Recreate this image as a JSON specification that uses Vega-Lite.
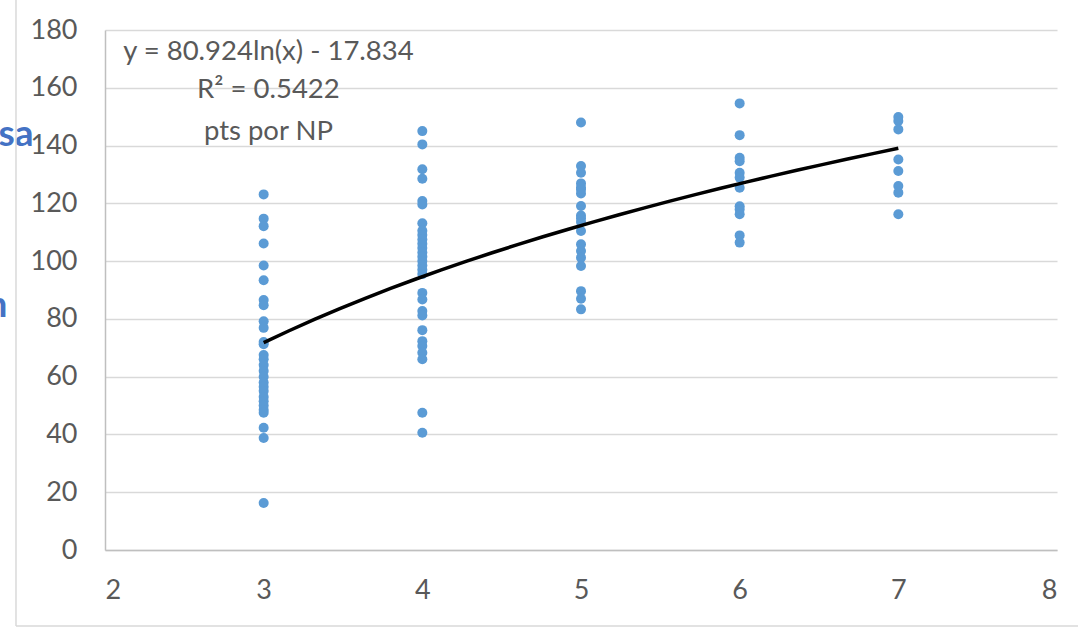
{
  "$schema": "https://vega.github.io/schema/vega-lite/v6.json",
  "autosize": "none",
  "width": 952,
  "height": 520,
  "padding": {"left": 105, "top": 30, "right": 21, "bottom": 80},
  "background": "white",
  "config": {
    "view": {"stroke": null},
    "font": "Lato",
    "axis": {"labelFont": "Lato", "labelFontSize": 27, "labelColor": "#595959", "ticks": false, "title": null}
  },
  "datasets": {
    "pts": [
      {"np": 3, "pts": 123.1}, {"np": 3, "pts": 114.7}, {"np": 3, "pts": 112.1}, {"np": 3, "pts": 106.1},
      {"np": 3, "pts": 98.5}, {"np": 3, "pts": 93.4}, {"np": 3, "pts": 86.5}, {"np": 3, "pts": 84.7},
      {"np": 3, "pts": 79.2}, {"np": 3, "pts": 76.9}, {"np": 3, "pts": 72}, {"np": 3, "pts": 71.2},
      {"np": 3, "pts": 67.5}, {"np": 3, "pts": 66}, {"np": 3, "pts": 64}, {"np": 3, "pts": 62},
      {"np": 3, "pts": 60}, {"np": 3, "pts": 58}, {"np": 3, "pts": 56.5}, {"np": 3, "pts": 55},
      {"np": 3, "pts": 53}, {"np": 3, "pts": 51.5}, {"np": 3, "pts": 50}, {"np": 3, "pts": 48.5},
      {"np": 3, "pts": 47.5}, {"np": 3, "pts": 42.3}, {"np": 3, "pts": 38.8}, {"np": 3, "pts": 16.3},
      {"np": 4, "pts": 145}, {"np": 4, "pts": 140.4}, {"np": 4, "pts": 131.8}, {"np": 4, "pts": 128.5},
      {"np": 4, "pts": 120.8}, {"np": 4, "pts": 119.6}, {"np": 4, "pts": 113.1}, {"np": 4, "pts": 110.5},
      {"np": 4, "pts": 109}, {"np": 4, "pts": 107.5}, {"np": 4, "pts": 106}, {"np": 4, "pts": 104.5},
      {"np": 4, "pts": 103}, {"np": 4, "pts": 101.5}, {"np": 4, "pts": 100}, {"np": 4, "pts": 98.5},
      {"np": 4, "pts": 97}, {"np": 4, "pts": 95.5}, {"np": 4, "pts": 89}, {"np": 4, "pts": 86.7},
      {"np": 4, "pts": 82.7}, {"np": 4, "pts": 81.2}, {"np": 4, "pts": 76.1}, {"np": 4, "pts": 72.3},
      {"np": 4, "pts": 70.6}, {"np": 4, "pts": 68.3}, {"np": 4, "pts": 66}, {"np": 4, "pts": 47.5},
      {"np": 4, "pts": 40.6},
      {"np": 5, "pts": 148}, {"np": 5, "pts": 132.9}, {"np": 5, "pts": 130.6}, {"np": 5, "pts": 126.9},
      {"np": 5, "pts": 125.5}, {"np": 5, "pts": 124.8}, {"np": 5, "pts": 123.4}, {"np": 5, "pts": 119.1},
      {"np": 5, "pts": 115.8}, {"np": 5, "pts": 114.8}, {"np": 5, "pts": 113.5}, {"np": 5, "pts": 110.4},
      {"np": 5, "pts": 105.8}, {"np": 5, "pts": 103.5}, {"np": 5, "pts": 101.2}, {"np": 5, "pts": 98.3},
      {"np": 5, "pts": 89.6}, {"np": 5, "pts": 87}, {"np": 5, "pts": 83.3},
      {"np": 6, "pts": 154.6}, {"np": 6, "pts": 143.6}, {"np": 6, "pts": 135.8}, {"np": 6, "pts": 134.6},
      {"np": 6, "pts": 130.6}, {"np": 6, "pts": 128.9}, {"np": 6, "pts": 125.4}, {"np": 6, "pts": 119},
      {"np": 6, "pts": 117.9}, {"np": 6, "pts": 116.2}, {"np": 6, "pts": 108.9}, {"np": 6, "pts": 106.4},
      {"np": 7, "pts": 149.9}, {"np": 7, "pts": 148.5}, {"np": 7, "pts": 145.6}, {"np": 7, "pts": 135.2},
      {"np": 7, "pts": 131.2}, {"np": 7, "pts": 126}, {"np": 7, "pts": 123.7}, {"np": 7, "pts": 116.2}
    ],
    "one": [{"k": 1}]
  },
  "layer": [
    {
      "data": {"name": "pts"},
      "mark": {"type": "point", "filled": true, "opacity": 1, "size": 100, "color": "#5b9bd5"},
      "encoding": {
        "x": {
          "field": "np", "type": "quantitative",
          "scale": {"domain": [2, 8], "nice": false, "zero": false},
          "axis": {"values": [2, 3, 4, 5, 6, 7, 8], "format": "d", "grid": false, "domainColor": "#bfbfbf", "domainWidth": 1.5, "labelPadding": 27}
        },
        "y": {
          "field": "pts", "type": "quantitative",
          "scale": {"domain": [0, 180], "nice": false},
          "axis": {"values": [0, 20, 40, 60, 80, 100, 120, 140, 160, 180], "format": "d", "grid": true, "gridColor": "#d9d9d9", "gridWidth": 1.5, "domainColor": "#bfbfbf", "domainWidth": 1.5, "labelPadding": 28}
        }
      }
    },
    {
      "data": {"name": "pts"},
      "transform": [{"regression": "pts", "on": "np", "method": "log", "extent": [3, 7]}],
      "mark": {"type": "line", "color": "#000000", "strokeWidth": 3.5},
      "encoding": {
        "x": {"field": "np", "type": "quantitative"},
        "y": {"field": "pts", "type": "quantitative"}
      }
    },
    {
      "data": {"name": "one"},
      "mark": {"type": "text", "font": "Lato", "fontSize": 27.5, "color": "#595959", "align": "center", "baseline": "middle"},
      "encoding": {
        "x": {"datum": 3.03, "type": "quantitative"},
        "y": {"datum": 172.4, "type": "quantitative"},
        "text": {"value": "y = 80.924ln(x) - 17.834"}
      }
    },
    {
      "data": {"name": "one"},
      "mark": {"type": "text", "font": "Lato", "fontSize": 27.5, "color": "#595959", "align": "center", "baseline": "middle"},
      "encoding": {
        "x": {"datum": 3.03, "type": "quantitative"},
        "y": {"datum": 159.2, "type": "quantitative"},
        "text": {"value": "R² = 0.5422"}
      }
    },
    {
      "data": {"name": "one"},
      "mark": {"type": "text", "font": "Lato", "fontSize": 27.5, "color": "#595959", "align": "center", "baseline": "middle"},
      "encoding": {
        "x": {"datum": 3.03, "type": "quantitative"},
        "y": {"datum": 144.7, "type": "quantitative"},
        "text": {"value": "pts por NP"}
      }
    },
    {
      "data": {"name": "one"},
      "mark": {"type": "text", "font": "Lato", "fontWeight": "bold", "fontSize": 37, "color": "#4472c4", "align": "right", "baseline": "middle"},
      "encoding": {
        "x": {"datum": 1.55, "type": "quantitative"},
        "y": {"datum": 143.5, "type": "quantitative"},
        "text": {"value": "sa"}
      }
    },
    {
      "data": {"name": "one"},
      "mark": {"type": "text", "font": "Lato", "fontWeight": "bold", "fontSize": 37, "color": "#4472c4", "align": "right", "baseline": "middle"},
      "encoding": {
        "x": {"datum": 1.385, "type": "quantitative"},
        "y": {"datum": 84.5, "type": "quantitative"},
        "text": {"value": "n"}
      }
    },
    {
      "data": {"name": "one"},
      "mark": {"type": "rule", "color": "#d9d9d9", "strokeWidth": 1.5},
      "encoding": {
        "x": {"datum": 1.439, "type": "quantitative"},
        "y": {"datum": 191, "type": "quantitative"},
        "y2": {"datum": -26.3}
      }
    },
    {
      "data": {"name": "one"},
      "mark": {"type": "rule", "color": "#d9d9d9", "strokeWidth": 1.5},
      "encoding": {
        "y": {"datum": -26.3, "type": "quantitative"},
        "x": {"datum": 1.439, "type": "quantitative"},
        "x2": {"datum": 8.2}
      }
    }
  ]
}
